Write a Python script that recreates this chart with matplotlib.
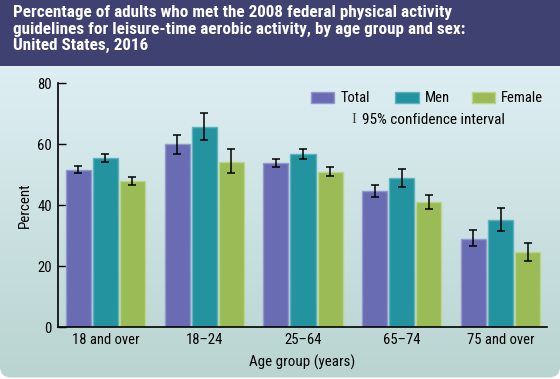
import numpy as np
import matplotlib
matplotlib.use("Agg")
import matplotlib.pyplot as plt
from matplotlib.patches import FancyBboxPatch, Rectangle

# ---- data ----
categories = ["18 and over", "18\u201324", "25\u201364", "65\u201374", "75 and over"]
series_names = ["Total", "Men", "Female"]
total = [51.7, 60.1, 54.0, 44.8, 29.1]
men = [55.6, 65.7, 56.7, 49.1, 35.3]
female = [48.0, 54.3, 51.0, 41.0, 24.7]
total_lo = [50.5, 56.9, 52.7, 42.8, 26.6]
total_hi = [53.0, 63.2, 55.1, 46.8, 31.9]
men_lo = [54.2, 61.5, 55.3, 46.0, 31.5]
men_hi = [56.9, 70.1, 58.3, 52.0, 39.1]
female_lo = [46.7, 50.7, 49.7, 38.8, 21.9]
female_hi = [49.2, 58.3, 52.7, 43.3, 27.5]
y_ticks = [0, 20, 40, 60, 80]

title = ("Percentage of adults who met the 2008 federal physical activity\n"
         "guidelines for leisure-time aerobic activity, by age group and sex:\n"
         "United States, 2016")

FONT = ["Roboto Condensed", "DejaVu Sans"]
plt.rcParams["font.family"] = FONT

W, H = 560, 379
fig = plt.figure(figsize=(W / 100, H / 100), dpi=100)

# ---- background ----
bg = fig.add_axes([0, 0, 1, 1], zorder=-10)
bg.set_xlim(0, W)
bg.set_ylim(H, 0)
bg.axis("off")
top_c = np.array([0xe6, 0xf4, 0xfa]) / 255
bot_c = np.array([0xb9, 0xd4, 0xd1]) / 255
t = np.linspace(0, 1, 256)[:, None]
g = (top_c[None, None, :] * (1 - t)[:, :, None] + bot_c[None, None, :] * t[:, :, None])
im = bg.imshow(g, extent=(0, W, H, 0), aspect="auto", interpolation="bilinear")
clip = FancyBboxPatch((0, -20), W, H + 20 - 1.5, boxstyle="round,pad=0,rounding_size=11",
                      transform=bg.transData, facecolor="none", edgecolor="none")
bg.add_patch(clip)
im.set_clip_path(clip)
band = Rectangle((0, 0), W, 65.7, facecolor="#3f4271", edgecolor="none")
band.set_clip_path(clip)
bg.add_patch(band)
fig.text(13 / W, 1 - 5.5 / H, title, ha="left", va="top", color="white",
         fontsize=12.3, fontweight="bold", linespacing=1.1, family=FONT)

# ---- main axes ----
ax = fig.add_axes([58.3 / W, 1 - 327.3 / H, 488.4 / W, (327.3 - 83.3) / H])
ax.patch.set_alpha(0)

x = np.arange(len(categories))
step = 0.274
width = 0.254
colors = ["#6a6cb3", "#2393a0", "#9abb55"]
edges = ["#9496cc", "#5cb3bd", "#bcd58a"]
vals = [total, men, female]
los = [total_lo, men_lo, female_lo]
his = [total_hi, men_hi, female_hi]
for k, (v, lo, hi) in enumerate(zip(vals, los, his)):
    pos = x + (k - 1) * step
    ax.bar(pos, v, width=width, color=colors[k], edgecolor=edges[k], linewidth=1.0, zorder=2)
    v_arr = np.array(v)
    yerr = np.vstack([v_arr - np.array(lo), np.array(hi) - v_arr])
    ax.errorbar(pos, v_arr, yerr=yerr, fmt="none", ecolor="black", elinewidth=1.1,
                capsize=2.6, capthick=1.1, zorder=3)

ax.set_xlim(-0.477, 4.467)
ax.set_ylim(0, 80)
ax.set_yticks(y_ticks)
ax.set_xticks(x)
ax.set_xticklabels(categories)
ax.tick_params(axis="y", direction="in", length=6, width=1, pad=4.6, labelsize=10.5, colors="black")
ax.tick_params(axis="x", length=0, pad=4.0, labelsize=10.5)
for s in ["top", "right"]:
    ax.spines[s].set_visible(False)
ax.spines["left"].set_linewidth(1.2)
ax.spines["bottom"].set_linewidth(1.2)
ax.set_ylabel("Percent", fontsize=10.8, labelpad=4)
ax.set_xlabel("Age group (years)", fontsize=10.8, labelpad=5.5)

# ---- legend (manual) ----
leg_x = [310.7, 395.0, 471.7]
for k, name in enumerate(series_names):
    fig.patches.append(Rectangle((leg_x[k] / W, 1 - 103.3 / H), 23.6 / W, 11.6 / H,
                                 transform=fig.transFigure, facecolor=colors[k],
                                 edgecolor=edges[k], linewidth=1.0))
    fig.text((leg_x[k] + 29.5) / W, 1 - 97.5 / H, name, ha="left", va="center", fontsize=10.5)
fig.text(351.7 / W, 1 - 119.5 / H, "I", ha="left", va="center", fontsize=10.5,
         color="#444444", family=["Liberation Serif", "DejaVu Serif"])
fig.text(362 / W, 1 - 119.5 / H, "95% confidence interval", ha="left", va="center", fontsize=11)

fig.savefig("out.png", dpi=100)
